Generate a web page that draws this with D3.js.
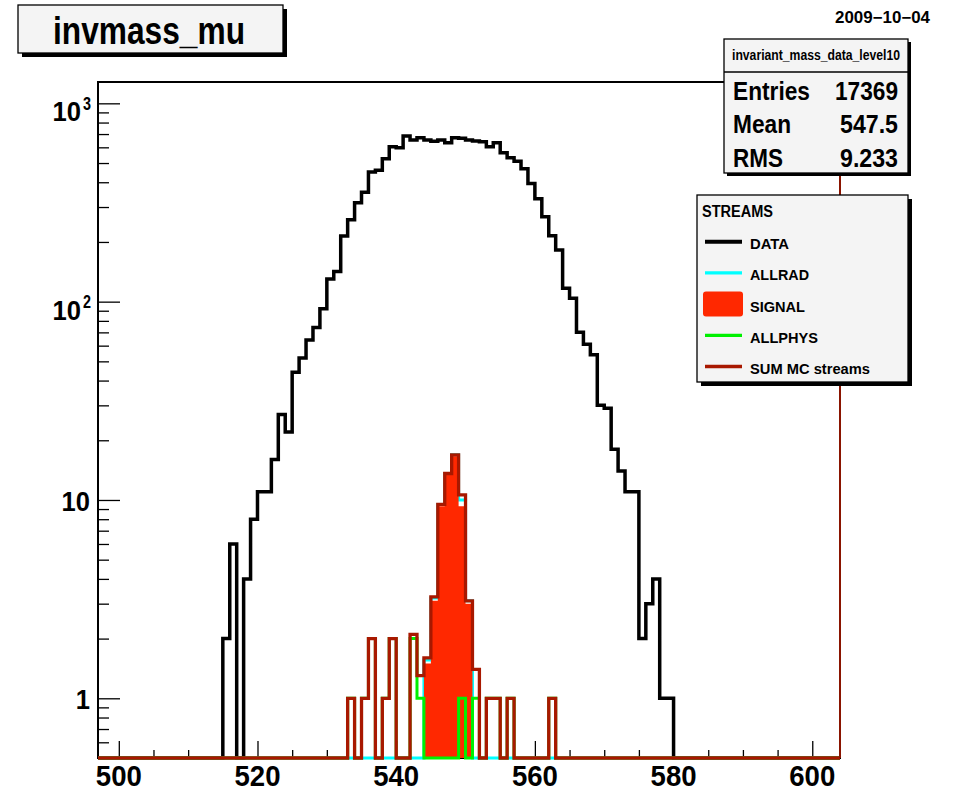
<!DOCTYPE html>
<html>
<head>
<meta charset="utf-8">
<script src="https://cdn.jsdelivr.net/npm/d3@7"></script>
<style>
body { margin: 0; background: #fff; }
text { font-family: "Liberation Sans", Arial, Helvetica, sans-serif; font-weight: bold; fill: #000; }
</style>
</head>
<body>
<div id="graph"></div>
<script>
var w = 955, h = 791

// histogram binning: 1 unit wide bins, low edges 497 .. 603
var xmin = 497, xmax = 604

// DATA counts, bins 515 .. 579
var dataStart = 515
var dataCounts = [2,6,0,4,8,11,11,16,27,22,
  44,52,64,74,92,130,142,214,259,315,
  356,450,460,526,604,597,684,653,671,653,
  643,653,633,671,666,653,645,640,604,633,
  564,532,511,468,394,330,268,215,182,117,
  104,70,61,54,30,29,18,14,11,11,
  2,3,4,1,1]

// MC streams, bins 533 .. 562
var mcStart = 533
var allrad  = [0,0,0,0,0,0,0,0,0,0,0, 1.56,3.2,9.5,13.6,16.9,10.0,3.1, 0,0,0,0,0,0,0,0,0,0,0,0]
var signal  = [0,0,0,0,0,0,0,0,0,0,0, 1.5,3.1,9.3,13.4,16.6,9.3,3.0, 0,0,0,0,0,0,0,0,0,0,0,0]
var allphys = [1,0,1,2,0,1,2,0,0,2,1, 0,0,0,0,0,1,0, 1,0,1,1,0,1,0,0,0,0,0,1]
var summc   = [1,0,1,2,0,1,2,0,0,2.1,1.3, 1.6,3.25,9.5,13.6,16.9,10.6,3.1, 1.4,0,1,1,0,1,0,0,0,0,0,1]

// axis ticks and labels
var xMajor = [500, 520, 540, 560, 580, 600]
var xMinor = d3.range(505, 604, 5).filter(function(d){ return d % 20 })
var yMajor = [1, 10, 100, 1000]
var yMinor = [0.6,0.7,0.8,0.9, 2,3,4,5,6,7,8,9, 20,30,40,50,60,70,80,90, 200,300,400,500,600,700,800,900]
var yLabels = [['10', '3', 1000], ['10', '2', 100], ['10', '', 10], ['1', '', 1]]

var legendNames = ['DATA', 'ALLRAD', 'SIGNAL', 'ALLPHYS', 'SUM MC streams']
var colors = {data: '#000', allrad: '#00ffff', signal: '#ff2800', allphys: '#00f000', sum: '#a81800'}

var stats = [['Entries', '17369'], ['Mean', '547.5'], ['RMS', '9.233']]

var fl = 98, fr = 840, ft = 82, fb = 758

var x = d3.scaleLinear().domain([xmin, xmax]).range([fl, fr])
var y = d3.scaleLog().domain([0.5, 1281]).range([fb, ft])

var svg = d3.select('#graph').append('svg')
    .attr('width', w).attr('height', h)

svg.append('defs').append('clipPath').attr('id', 'fx')
  .append('rect').attr('x', fl).attr('y', 0).attr('width', fr - fl).attr('height', h)

var edges = d3.range(xmin, xmax)

function expand(start, vals){
  return edges.map(function(e){
    var i = e - start
    return i >= 0 && i < vals.length ? vals[i] : 0
  })
}
function yv(v){ return v > 0.5 ? y(v) : y(0.5) }
function pts(vals){
  var p = edges.map(function(e, i){ return [e, vals[i]] })
  p.push([xmax, vals[vals.length - 1]])
  return p
}

var step = d3.line().curve(d3.curveStepAfter)
    .x(function(d){ return x(d[0]) }).y(function(d){ return yv(d[1]) })
var stepArea = d3.area().curve(d3.curveStepAfter)
    .x(function(d){ return x(d[0]) }).y0(fb).y1(function(d){ return yv(d[1]) })

function txt(g, s, px, py, size, anchor, len){
  var t = g.append('text').attr('x', px).attr('y', py)
      .style('font-size', size + 'px').attr('text-anchor', anchor || 'start').text(s)
  if (len) t.attr('textLength', len).attr('lengthAdjust', 'spacingAndGlyphs')
  return t
}

// frame background
svg.append('rect').attr('x', fl).attr('y', ft).attr('width', fr - fl).attr('height', fb - ft)
    .attr('fill', '#fff').attr('stroke', '#000').attr('stroke-width', 2)

// ticks
function ticks(axis, tr, vals, size){
  var g = svg.append('g').attr('transform', tr)
      .call(axis.tickValues(vals).tickSize(size).tickSizeOuter(0).tickFormat(''))
  g.select('.domain').remove()
  g.selectAll('line').attr('stroke', '#000').attr('stroke-width', 1.3)
}
ticks(d3.axisBottom(x), 'translate(0,' + fb + ')', xMajor, -17)
ticks(d3.axisBottom(x), 'translate(0,' + fb + ')', xMinor, -8)
ticks(d3.axisLeft(y), 'translate(' + fl + ',0)', yMajor, -22)
ticks(d3.axisLeft(y), 'translate(' + fl + ',0)', yMinor, -11)

// histograms
var plot = svg.append('g').attr('clip-path', 'url(#fx)')
plot.append('path').attr('d', step(pts(expand(dataStart, dataCounts))))
    .attr('fill', 'none').attr('stroke', colors.data).attr('stroke-width', 3.5)
plot.append('path').attr('d', step(pts(expand(mcStart, allrad))))
    .attr('fill', 'none').attr('stroke', colors.allrad).attr('stroke-width', 3)
plot.append('path').attr('d', stepArea(pts(expand(mcStart, signal))))
    .attr('fill', colors.signal).attr('stroke', 'none')
plot.append('path').attr('d', step(pts(expand(mcStart, allphys))))
    .attr('fill', 'none').attr('stroke', colors.allphys).attr('stroke-width', 3)
plot.append('path').attr('d', step(pts(expand(mcStart, summc))))
    .attr('fill', 'none').attr('stroke', colors.sum).attr('stroke-width', 3.3)

svg.append('line').attr('x1', fr).attr('x2', fr).attr('y1', ft).attr('y2', fb)
    .attr('stroke', '#8a1400').attr('stroke-width', 2)

// axis labels
xMajor.forEach(function(v){ txt(svg, v, x(v), 786, 30, 'middle', 46) })
yLabels.forEach(function(d){
  var ty = y(d[2])
  if (d[1]) {
    txt(svg, d[0], 81, ty + 18, 28, 'end', 28.5)
    txt(svg, d[1], 83, ty + 6.5, 18, 'start', 8)
  } else {
    txt(svg, d[0], 90, ty + 11, 28, 'end', d[0].length * 14.2)
  }
})

// pave helper with shadow
function pave(px, py, pw, ph, off){
  svg.append('rect').attr('x', px + off).attr('y', py + off).attr('width', pw).attr('height', ph).attr('fill', '#000')
  svg.append('rect').attr('x', px).attr('y', py).attr('width', pw).attr('height', ph)
      .attr('fill', '#f4f4f4').attr('stroke', '#000').attr('stroke-width', 1.3)
}

// title
pave(18, 5, 265, 48, 4)
txt(svg, 'invmass_mu', 149, 43.5, 39, 'middle', 192)

// date
txt(svg, '2009\u221210\u221204', 930, 23, 16, 'end', 95)

// stats box
pave(724, 39, 184, 134, 3)
svg.append('line').attr('x1', 724).attr('x2', 908).attr('y1', 72).attr('y2', 72).attr('stroke', '#000').attr('stroke-width', 1.3)
txt(svg, 'invariant_mass_data_level10', 816, 60, 14, 'middle', 168)
stats.forEach(function(d, i){
  var by = 99.5 + i * 33.7
  txt(svg, d[0], 733, by, 25, 'start', [77, 58, 50][i])
  txt(svg, d[1], 898, by, 25, 'end', [63, 58, 58][i])
})

// legend
pave(697, 195, 211, 187, 4)
txt(svg, 'STREAMS', 702, 217, 16, 'start', 71)
var legendW = [39, 59, 55, 68, 120]
var lg = svg.selectAll('g.leg').data(legendNames).enter().append('g').attr('class', 'leg')
    .attr('transform', function(d, i){ return 'translate(0,' + (241.7 + i * 31.2) + ')' })
lg.each(function(d, i){
  var g = d3.select(this)
  if (i == 2) {
    g.append('rect').attr('x', 703).attr('y', -12.5).attr('width', 40).attr('height', 25).attr('rx', 3)
        .attr('fill', colors.signal)
  } else {
    var c = [colors.data, colors.allrad, null, colors.allphys, colors.sum][i]
    g.append('line').attr('x1', 705).attr('x2', 742).attr('y1', 0).attr('y2', 0)
        .attr('stroke', c).attr('stroke-width', i == 0 ? 4 : 3.3)
  }
  txt(g, d, 750, 7.5, 15, 'start', legendW[i])
})
</script>
</body>
</html>
